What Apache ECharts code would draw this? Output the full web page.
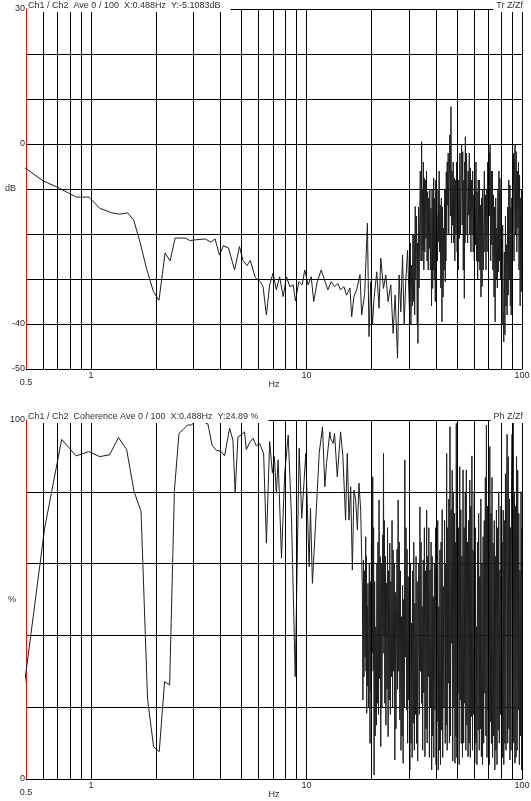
<!DOCTYPE html>
<html>
<head>
<meta charset="utf-8">
<script src="https://cdn.jsdelivr.net/npm/echarts/dist/echarts.min.js"></script>
<style>
  html, body { margin: 0; padding: 0; background: #fff; }
  #chart { width: 531px; height: 801px; }
</style>
</head>
<body>
<div id="chart"></div>
<script>
// transfer function Z/Zf (dB)
var trHz = [0.488, 0.60, 0.70, 0.856, 0.98, 1.10, 1.25, 1.36, 1.48, 1.58, 1.69, 1.81, 1.95, 2.07, 2.21, 2.33, 2.46, 2.74, 2.89, 3.05,
  3.39, 3.60, 3.77, 3.95, 4.12, 4.35, 4.64, 4.89, 5.08, 5.30, 5.49, 5.79, 6.11, 6.29, 6.52, 6.75, 7.00, 7.25, 7.51, 7.80,
  8.08, 8.37, 8.68, 8.89, 9.22, 9.55, 9.82, 10.18, 10.52, 10.81, 11.22, 11.71, 12.13, 12.57, 13.03, 13.50, 13.99, 14.40, 14.92, 15.35,
  15.92, 16.21, 16.61, 17.10, 17.72, 18.04, 18.63, 19.18, 19.51, 19.87, 20.24, 20.59, 21.19, 21.72, 22.12, 22.77, 23.34, 23.92, 24.62, 25.24,
  25.79, 26.46, 26.91, 27.41, 27.91, 28.40, 28.92, 29.45,
  30.10, 30.32, 30.53, 30.75, 30.97, 31.20, 31.42, 31.60, 31.78, 31.96, 32.16, 32.35, 32.55, 32.67, 32.78, 32.90, 33.10, 33.30,
  33.50, 33.74, 33.99, 34.23, 34.39, 34.55, 34.71, 34.87, 35.04, 35.20, 35.41, 35.63, 35.84, 36.06, 36.28, 36.50, 36.71, 36.92,
  37.13, 37.36, 37.59, 37.82, 38.05, 38.28, 38.51, 38.65, 38.79, 38.93, 39.15, 39.38, 39.60, 39.83, 40.07, 40.30, 40.55, 40.79,
  41.04, 41.28, 41.51, 41.75, 42.01, 42.26, 42.52, 42.78, 43.04, 43.30, 43.55, 43.80, 44.05, 44.21, 44.37, 44.53, 44.75, 44.98,
  45.20, 45.46, 45.72, 45.98, 46.26, 46.55, 46.83, 47.12, 47.40, 47.69, 47.96, 48.24, 48.51, 48.81, 49.11, 49.41, 49.71, 50.02,
  50.32, 50.61, 50.91, 51.20, 51.51, 51.83, 52.14, 52.46, 52.78, 53.10, 53.40, 53.71, 54.01, 54.21, 54.40, 54.60, 54.93, 55.27,
  55.60, 55.94, 56.28, 56.62, 56.95, 57.27, 57.60, 57.95, 58.31, 58.66, 59.02, 59.38, 59.74, 60.09, 60.43, 60.78, 61.15, 61.53,
  61.90, 62.28, 62.66, 63.04, 63.40, 63.76, 64.12, 64.51, 64.91, 65.30, 65.70, 66.10, 66.50, 66.89, 67.27, 67.66, 68.07, 68.49,
  68.90, 69.32, 69.73, 70.15, 70.48, 70.80, 71.13, 71.57, 72.00, 72.44, 72.86, 73.28, 73.70, 74.15, 74.60, 75.05, 75.51, 75.97,
  76.43, 76.87, 77.32, 77.76, 78.17, 78.57, 78.98, 79.43, 79.89, 80.34, 80.83, 81.33, 81.82, 82.32, 82.83, 83.33, 83.81, 84.29,
  84.77, 85.29, 85.80, 86.32, 86.85, 87.39, 87.92, 88.33, 88.74, 89.14, 89.68, 90.23, 90.77, 91.29, 91.82, 92.34, 92.91, 93.47,
  94.04, 94.62, 95.19, 95.77, 96.32, 96.88, 97.43, 98.03, 98.62, 99.22, 99.48, 99.74, 100.0];
var trDb = [-5.1, -8.2, -9.6, -11.8, -11.8, -14.3, -15.3, -15.6, -15.3, -16.9, -21.8, -27.6, -32.8, -34.7, -24.2, -26.0, -20.9, -20.9, -21.5, -21.3,
  -21.1, -21.8, -21.1, -24.7, -22.6, -23.1, -28.0, -22.8, -25.9, -27.0, -25.9, -29.7, -30.6, -31.7, -38.0, -31.3, -28.7, -32.4, -29.5, -33.9,
  -29.5, -31.7, -31.3, -34.9, -30.6, -31.3, -28.0, -31.3, -29.5, -35.0, -30.6, -28.0, -30.2, -32.4, -30.6, -31.7, -31.0, -32.4, -31.7, -33.6,
  -32.0, -38.4, -33.9, -32.4, -29.0, -38.0, -33.2, -17.6, -42.8, -30.6, -40.2, -34.3, -28.4, -36.5, -25.4, -32.1, -29.1, -35.0, -31.3, -42.1,
  -33.6, -47.6, -29.1, -37.3, -24.7, -40.2, -30.2, -23.6,
  -38.0, -22, -40, -26.9, -36, -20, -35.0, -20, -38, -13.9, -30, -16, -27.6, -40, -22, -44.3, -14, -32,
  -18.7, -6, -26, 0.5, -26, -10, -23.6, -4, -28, -7.6, -24, -8, -21.0, -6, -26, -10.6, -28, -12,
  -23.2, -10, -28, -14.3, -36, -10, -32.1, -12, -28, -7.6, -30, -12, -35.0, -8, -30, -15.8, -26, -10,
  -21.7, -6, -24, -13.6, -32, -12, -39.5, -14, -34, -18.7, -28, -10, -30.6, -10, -26, -6.2, -20, -4,
  -13.6, -2, -20, -7.6, 2, -16, 8.3, -22, -6, -18.0, -4, -22, -7.6, -26, -8, -20.2, -4, -24,
  -13.6, -28, -8, -21.0, -2, -20, -6.9, 0, -18, -1.7, -28, -8, -34.3, -4, -22, 1.6, -20, -2,
  -10.6, -22, -6, -15.8, -2, -20, -5.4, -24, -8, -20.2, -6, -24, -11.3, -26, -10, -22.4, -4, -26,
  -10.6, -30, -8, -26.2, -8, -28, -13.6, -34, -12, -31.7, -10, -28, -18.7, -6, -24, -11.3, -28, -10,
  -23.9, -4, -20, -6.2, -2, -16, -0.2, -26, -6, -22.4, -6, -28, -11.3, -34, -14, -39.5, -12, -30,
  -18.7, -32, -10, -28.4, -6, -26, -7.6, -30, -10, -26.2, -40, -18, -36.5, -44, -24, -42.4, -16, -36,
  -22.4, -38, -14, -33.6, -8, -30, -9.1, -36, -14, -38.0, -12, -32, -9.8, -2, -26, -3.9, 0, -20,
  -1.7, -24, -6, -18.7, -4, -28, -6.9, -36, -12, -32.8, -10, -30, -16.5];

// coherence (%)
var cohHz = [0.488, 0.610, 0.732, 0.854, 0.977, 1.099, 1.221, 1.343, 1.465, 1.587, 1.709, 1.831, 1.953, 2.075, 2.197, 2.319, 2.441, 2.563, 2.686, 2.808,
  2.930, 3.05, 3.31, 3.49, 3.65, 3.81, 4.02, 4.17, 4.40, 4.56, 4.67, 4.81, 4.98, 5.16, 5.26, 5.49, 5.65, 5.85, 6.06, 6.33,
  6.52, 6.75, 6.95, 7.10, 7.25, 7.39, 7.66, 7.93, 8.23, 8.52, 8.87, 9.25, 9.51, 9.93, 10.29, 10.44, 10.66, 11.13, 11.46, 11.87,
  12.17, 12.39, 12.84, 12.93, 13.31, 13.50, 13.90, 14.40, 14.76, 15.19, 15.47, 15.75, 16.04, 16.33, 16.61, 16.92, 17.23, 17.53, 17.85,
  18.18, 18.28, 18.39, 18.49, 18.60, 18.72, 18.83, 18.90, 18.97, 19.04, 19.13, 19.21, 19.30, 19.44, 19.58, 19.72, 19.82, 19.92,
  20.02, 20.11, 20.21, 20.30, 20.40, 20.49, 20.59, 20.72, 20.84, 20.97, 21.10, 21.22, 21.35, 21.47, 21.60, 21.72, 21.85, 21.99,
  22.12, 22.26, 22.39, 22.53, 22.61, 22.69, 22.77, 22.88, 22.98, 23.09, 23.23, 23.37, 23.51, 23.65, 23.78, 23.92, 24.07, 24.21,
  24.36, 24.51, 24.66, 24.81, 24.95, 25.10, 25.24, 25.39, 25.55, 25.70, 25.86, 26.02, 26.18, 26.33, 26.48, 26.63, 26.79, 26.96,
  27.12, 27.29, 27.45, 27.62, 27.78, 27.93, 28.09, 28.26, 28.44, 28.61, 28.79, 28.96, 29.14, 29.31, 29.47, 29.64, 29.82, 30.01,
  30.19, 30.38, 30.56, 30.75, 30.93, 31.10, 31.28, 31.47, 31.67, 31.86, 32.05, 32.25, 32.44, 32.63, 32.81, 33.00, 33.20, 33.41,
  33.61, 33.82, 34.02, 34.23, 34.43, 34.62, 34.82, 35.03, 35.25, 35.46, 35.68, 35.89, 36.11, 36.32, 36.53, 36.74, 36.96, 37.19,
  37.41, 37.64, 37.87, 38.10, 38.32, 38.54, 38.76, 38.99, 39.23, 39.47, 39.70, 39.94, 40.17, 40.40, 40.64, 40.87, 41.12, 41.37,
  41.62, 41.87, 42.13, 42.38, 42.63, 42.87, 43.12, 43.43, 43.74, 44.05, 44.27, 44.50, 44.72, 44.98, 45.23, 45.49, 45.77, 46.05,
  46.33, 46.61, 46.90, 47.18, 47.45, 47.73, 48.00, 48.29, 48.59, 48.88, 49.11, 49.34, 49.57, 49.87, 50.18, 50.48, 50.79, 51.11,
  51.42, 51.71, 52.01, 52.30, 52.62, 52.95, 53.27, 53.60, 53.92, 54.25, 54.56, 54.87, 55.18, 55.52, 55.86, 56.20, 56.54, 56.89,
  57.23, 57.56, 57.88, 58.21, 58.57, 58.94, 59.30, 59.66, 60.03, 60.39, 60.74, 61.08, 61.43, 61.81, 62.18, 62.56, 62.94, 63.33,
  63.71, 64.08, 64.44, 64.81, 65.21, 65.61, 66.01, 66.41, 66.82, 67.22, 67.61, 67.99, 68.38, 68.79, 69.21, 69.62, 70.05, 70.48,
  70.91, 71.32, 71.73, 72.14, 72.58, 73.02, 73.46, 73.91, 74.36, 74.81, 75.24, 75.67, 76.10, 76.57, 77.03, 77.50, 77.99, 78.49,
  78.98, 79.43, 79.89, 80.34, 80.83, 81.33, 81.82, 82.32, 82.83, 83.33, 83.81, 84.29, 84.77, 85.29, 85.80, 86.32, 86.85, 87.39,
  87.92, 88.42, 88.92, 89.42, 89.97, 90.52, 91.07, 91.63, 92.19, 92.75, 93.28, 93.82, 94.35, 94.93, 95.50, 96.08, 96.67, 97.26,
  97.85, 98.41, 98.98, 99.54, 99.86, 100.18, 100.5];
var cohPct = [24.89, 69.8, 94.6, 90.0, 91.2, 89.8, 90.3, 95.1, 91.8, 80.0, 74.5, 22.5, 9.0, 7.6, 27.1, 26.2, 80.5, 96.3, 97.4, 98.6,
  98.6, 99.7, 99.5, 98.9, 93.0, 91.6, 91.2, 90.0, 97.7, 94.4, 79.6, 95.3, 95.8, 96.7, 91.8, 94.0, 94.9, 92.8, 93.5, 90.7,
  65.7, 94.0, 85.2, 89.8, 79.6, 88.9, 61.5, 85.2, 95.8, 73.1, 28.5, 92.1, 72.6, 90.7, 59.1, 75.4, 54.5, 75.8, 90.7, 98.1,
  81.4, 87.9, 96.7, 94.9, 93.5, 96.3, 84.2, 96.7, 89.8, 72.1, 90.7, 72.1, 81.4, 58.2, 80.5, 77.7, 69.4, 82.4, 74.9,
  52.6, 22, 61, 28.5, 58, 34, 67.5, 30, 62, 18.3, 48, 26, 54.5, 20, 60, 9.9, 55, 24,
  65.7, 80, 35, 84.2, 30, 70, 1.1, 55, 12, 42.4, 15, 60, 21.1, 66, 18, 77.7, 28, 62,
  9.0, 60, 20, 50.8, 68, 35, 90.7, 40, 72, 21.1, 62, 15, 54.5, 25, 70, 11.8, 58, 22,
  65.7, 18, 55, 28.5, 72, 20, 63.8, 30, 60, 5.3, 52, 14, 47.1, 64, 25, 77.7, 30, 66,
  16.4, 58, 8, 45.2, 12, 54, 4.4, 50, 20, 88.9, 34, 70, 19.2, 64, 10, 56.4, 22, 52,
  2.5, 60, 10, 43.4, 6, 58, 15.5, 66, 8, 48.9, 18, 62, 9.9, 55, 5, 33.1, 60, 18,
  75.8, 30, 66, 21.1, 48, 8, 61.0, 24, 70, 6.2, 58, 14, 74.9, 10, 62, 28.5, 70, 6,
  58.2, 20, 66, 2.5, 62, 12, 50.8, 6, 60, 19.2, 70, 4, 42.4, 16, 72, 2.5, 48, 8,
  63.8, 4, 66, 13.6, 75, 6, 53.6, 20, 72, 9.9, 60, 15, 90.7, 8, 70, 26.7, 78, 10,
  98.1, 12, 75, 37.8, 86, 5, 79.6, 20, 74, 4.4, 66, 12, 99.1, 6, 78, 23.9, 70, 4,
  87.0, 22, 75, 9.9, 62, 6, 86.1, 10, 70, 21.1, 80, 8, 86.1, 15, 66, 6.2, 72, 10,
  83.3, 6, 76, 17.4, 90, 8, 63.8, 18, 80, 4.4, 70, 10, 42.4, 4, 66, 13.6, 74, 8,
  56.4, 14, 78, 6.2, 60, 4, 67.5, 10, 72, 23.9, 84, 12, 98.6, 6, 76, 19.2, 70, 4,
  92.6, 16, 74, 9.9, 84, 6, 65.7, 12, 72, 2.5, 62, 8, 74.9, 4, 70, 13.6, 80, 10,
  58.2, 18, 76, 2.5, 66, 6, 74.9, 4, 72, 9.9, 85, 8, 76.8, 96, 10, 89.8, 14, 78,
  5.3, 70, 8, 84.2, 96, 12, 99.1, 10, 80, 4.4, 76, 6, 89.8, 8, 86, 19.2, 74, 4,
  58.2, 12, 80, 2.5, 70, 10, 60.0];

// vertical grid of the log frequency axis
var gridHz = [0.6, 0.7, 0.8, 0.9, 1, 2, 3, 4, 5, 6, 7, 8, 9, 10, 20, 30, 40, 50, 60, 70, 80, 90, 100];
var hzLabels = [0.5, 1, 10, 100];
var dbLabels = [30, 0, -40, -50];
var pctLabels = [100, 0];

function pairs(xs, ys) {
  return xs.map(function(x, i) { return [x, ys[i]]; });
}

var txt = '#2a2a2a';
var font = 'Liberation Sans, Arial, sans-serif';

function xAxisOf(idx) {
  return {
    type: 'log',
    gridIndex: idx,
    logBase: 10,
    min: 0.5,
    max: 100,
    name: 'Hz',
    nameLocation: 'middle',
    nameGap: 11,
    nameMoveOverlap: false,
    nameTextStyle: { fontSize: 9, color: txt, fontFamily: font },
    axisLine: { show: true, onZero: false, lineStyle: { color: '#000', width: 1 } },
    axisTick: { show: false },
    splitLine: { show: false },
    minorTick: { show: false },
    axisLabel: {
      fontSize: 9, color: txt, fontFamily: font, margin: 2,
      showMinLabel: true, showMaxLabel: true,
      formatter: function(v) {
        var r = Math.round(v * 10) / 10;
        if (r === 0.5) return '{lo|0.5}';
        if (hzLabels.indexOf(r) >= 0) return String(r);
        return '';
      },
      rich: { lo: { fontSize: 9, color: txt, fontFamily: font, padding: [7, 0, 0, 0] } }
    }
  };
}

function yAxisOf(idx, min, max, step, name, shown) {
  return {
    type: 'value',
    gridIndex: idx,
    min: min,
    max: max,
    interval: step,
    name: name,
    nameLocation: 'middle',
    nameRotate: 0,
    nameGap: 10,
    nameMoveOverlap: false,
    nameTextStyle: { fontSize: 9, color: txt, fontFamily: font },
    axisLine: { show: true, lineStyle: { color: '#d01818', width: 1 } },
    axisTick: { show: false },
    splitLine: { show: true, lineStyle: { color: '#000', width: 1 } },
    axisLabel: {
      fontSize: 9, color: txt, fontFamily: font, margin: 1,
      formatter: function(v) { return shown.indexOf(v) >= 0 ? String(v) : ''; }
    }
  };
}

function gridMarks() {
  return {
    silent: true,
    symbol: 'none',
    animation: false,
    label: { show: false },
    lineStyle: { color: '#000', width: 1, type: 'solid' },
    data: gridHz.map(function(v) { return { xAxis: v }; })
  };
}

function head(text, top, left, right) {
  var t = {
    text: text,
    top: top,
    padding: [1, 10, 2, 1],
    backgroundColor: '#fff',
    textStyle: { fontSize: 9, fontWeight: 'normal', color: '#333', fontFamily: font }
  };
  if (right != null) { t.right = right; t.padding = [1, 1, 2, 3]; } else { t.left = left; }
  return t;
}

var myChart = echarts.init(document.getElementById('chart'));

var option = {
  animation: false,
  backgroundColor: '#fff',
  title: [
    head('Ch1 / Ch2  Ave 0 / 100  X:0.488Hz  Y:-5.1083dB', 0, 27),
    head('Tr Z/Zf', 0, null, 7),
    head('Ch1 / Ch2  Coherence Ave 0 / 100  X:0.488Hz  Y:24.89 %', 411, 27),
    head('Ph Z/Zf', 411, null, 7)
  ],
  grid: [
    { left: 26, right: 9, top: 9, height: 360, containLabel: false, outerBoundsMode: 'none' },
    { left: 26, right: 9, top: 420, height: 359, containLabel: false, outerBoundsMode: 'none' }
  ],
  xAxis: [xAxisOf(0), xAxisOf(1)],
  yAxis: [
    yAxisOf(0, -50, 30, 10, 'dB', dbLabels),
    yAxisOf(1, 0, 100, 20, '%', pctLabels)
  ],
  series: [
    {
      name: 'Tr Z/Zf',
      type: 'line',
      xAxisIndex: 0,
      yAxisIndex: 0,
      showSymbol: false,
      lineStyle: { color: '#1e1e1e', width: 1 },
      data: pairs(trHz, trDb),
      markLine: gridMarks()
    },
    {
      name: 'Coherence',
      type: 'line',
      xAxisIndex: 1,
      yAxisIndex: 1,
      showSymbol: false,
      lineStyle: { color: '#1e1e1e', width: 1 },
      data: pairs(cohHz, cohPct),
      markLine: gridMarks()
    }
  ]
};

myChart.setOption(option, true);
</script>
</body>
</html>
